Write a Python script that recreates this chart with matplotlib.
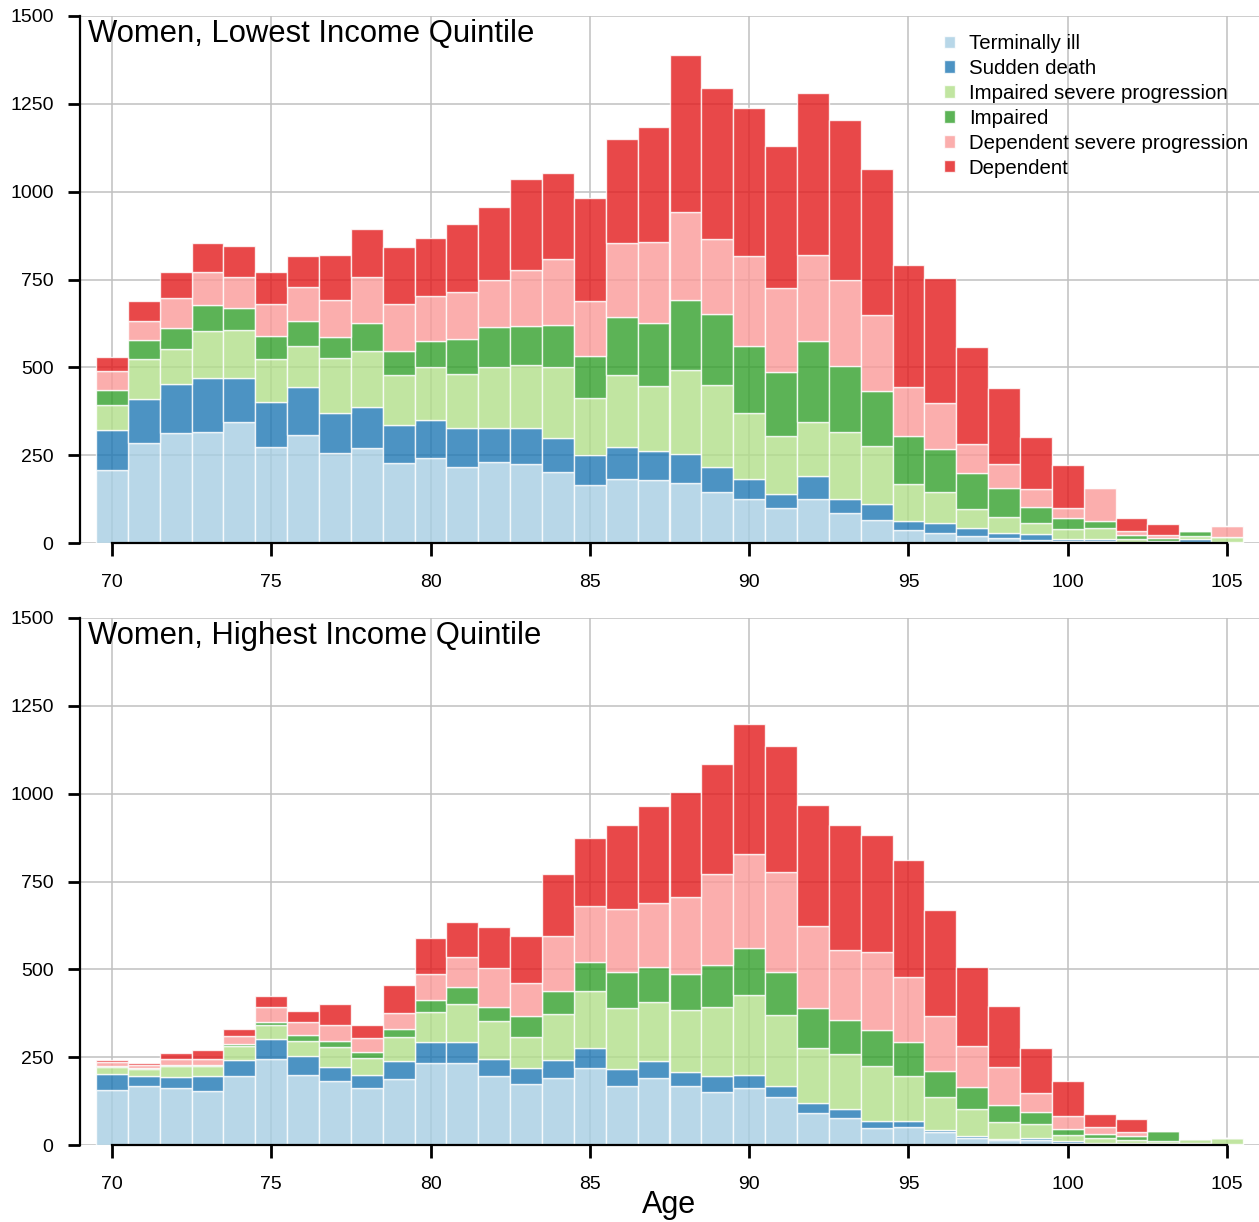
import matplotlib
matplotlib.use("Agg")
import matplotlib.pyplot as plt
import numpy as np

plt.rcParams['font.family'] = ['Liberation Sans', 'DejaVu Sans']

ages = list(range(70, 106))

labels = ["Terminally ill", "Sudden death", "Impaired severe progression",
          "Impaired", "Dependent severe progression", "Dependent"]
colors = ["#a6cee3", "#1f78b4", "#b2df8a", "#33a02c", "#fb9a99", "#e31a1c"]

# Women, lowest income quintile (counts per age, one list per state)
low_terminal = [208, 284, 314, 316, 344, 272, 307, 255, 271, 229, 243, 217, 231, 224, 201, 165,
                181, 179, 170, 144, 124, 101, 126, 86, 65, 37, 28, 20, 13, 9, 6, 5, 2, 1, 4, 3]
low_sudden = [115, 127, 139, 153, 127, 129, 137, 116, 117, 106, 106, 111, 96, 104, 97, 86,
              93, 83, 83, 71, 57, 38, 66, 39, 45, 26, 30, 24, 16, 16, 5, 7, 2, 1, 8, 1]
low_imp_sev = [70, 112, 99, 135, 135, 124, 117, 155, 158, 142, 151, 153, 174, 178, 203, 161,
               204, 186, 239, 234, 190, 166, 153, 192, 165, 105, 87, 53, 46, 33, 28, 31, 7, 3, 8, 12]
low_impaired = [42, 55, 60, 72, 64, 65, 70, 60, 80, 70, 74, 99, 114, 112, 120, 120,
                166, 177, 199, 202, 190, 181, 231, 187, 159, 137, 122, 101, 81, 44, 33, 21, 11, 10, 13, 2]
low_dep_sev = [55, 54, 84, 95, 88, 89, 97, 106, 130, 132, 130, 134, 135, 158, 186, 158,
               211, 231, 252, 213, 255, 239, 244, 245, 214, 138, 132, 85, 70, 53, 29, 92, 11, 9, 0, 29]
low_dependent = [39, 58, 76, 84, 86, 93, 90, 127, 139, 164, 164, 195, 207, 260, 246, 292,
                 294, 329, 445, 430, 423, 406, 461, 454, 417, 347, 354, 276, 215, 147, 122, 0, 38, 31, 0, 0]

# Women, highest income quintile
high_terminal = [156, 167, 161, 153, 197, 246, 200, 183, 163, 188, 232, 232, 197, 175, 192, 219,
                 169, 190, 169, 150, 163, 136, 92, 78, 47, 52, 36, 19, 14, 14, 7, 3, 4, 4, 4, 3]
high_sudden = [47, 30, 33, 42, 46, 55, 52, 40, 36, 52, 60, 60, 49, 44, 49, 56,
               48, 48, 38, 45, 35, 31, 28, 25, 20, 16, 7, 8, 3, 5, 5, 3, 1, 2, 1, 0]
high_imp_sev = [18, 19, 30, 30, 38, 40, 44, 55, 49, 66, 87, 109, 108, 87, 131, 162,
                172, 168, 177, 199, 230, 204, 157, 156, 159, 129, 93, 75, 49, 40, 16, 15, 9, 5, 11, 16]
high_impaired = [4, 3, 4, 4, 7, 10, 18, 17, 17, 24, 33, 50, 40, 60, 67, 84,
                 104, 100, 104, 118, 132, 120, 112, 96, 102, 95, 75, 64, 47, 36, 18, 10, 11, 29, 0, 0]
high_dep_sev = [10, 10, 17, 17, 23, 41, 36, 47, 40, 47, 76, 84, 110, 96, 156, 160,
                180, 183, 218, 260, 269, 285, 234, 201, 221, 187, 155, 117, 108, 54, 37, 19, 11, 0, 0, 0]
high_dependent = [8, 5, 16, 24, 20, 31, 32, 59, 36, 78, 101, 100, 117, 132, 177, 194,
                  239, 275, 299, 312, 370, 359, 346, 354, 333, 332, 302, 224, 176, 126, 100, 39, 39, 0, 0, 0]

panels = [
    ("Women, Lowest Income Quintile",
     [low_terminal, low_sudden, low_imp_sev, low_impaired, low_dep_sev, low_dependent]),
    ("Women, Highest Income Quintile",
     [high_terminal, high_sudden, high_imp_sev, high_impaired, high_dep_sev, high_dependent]),
]

W, H = 1259, 1222
fig = plt.figure(figsize=(W / 100, H / 100), dpi=100)
boxes = [(80, 16, 1179, 527), (80, 618, 1179, 527)]

axes = []
for (title, series), (x0, y0, w, h) in zip(panels, boxes):
    ax = fig.add_axes([x0 / W, 1 - (y0 + h) / H, w / W, h / H])
    axes.append(ax)
    ax.set_axisbelow(True)
    ax.grid(True, color="#c0c0c0", linewidth=1.1)
    bottom = np.zeros(len(ages))
    for vals, lab, col in zip(series, labels, colors):
        ax.bar(ages, vals, width=1.0, bottom=bottom, color=col, alpha=0.8,
               edgecolor="white", linewidth=1.0, label=lab)
        bottom += np.array(vals)
    ax.set_xlim(69, 106)
    ax.set_ylim(0, 1500)
    ax.set_xticks(range(70, 106, 5))
    ax.set_yticks(range(0, 1501, 250))
    ax.spines['top'].set_visible(False)
    ax.spines['right'].set_visible(False)
    ax.spines['left'].set_bounds(0, 1500)
    ax.spines['bottom'].set_bounds(70, 105)
    for s in ('left', 'bottom'):
        ax.spines[s].set_linewidth(1.6)
    ax.tick_params(axis='both', length=9, width=2, labelsize=14)
    ax.tick_params(axis='y', pad=10)
    ax.tick_params(axis='x', pad=13.5)
    ax.text(0.007, 0.995, title, transform=ax.transAxes, ha='left', va='top', fontsize=22.3)

axes[0].legend(loc='upper left', bbox_to_anchor=(0.733, 0.966), frameon=False,
               fontsize=14.7, borderpad=0, borderaxespad=0, labelspacing=0.29,
               handlelength=0.55, handleheight=0.55, handletextpad=0.65)
axes[1].set_xlabel("Age", fontsize=22, labelpad=-2)

fig.savefig("out.png", dpi=100)
